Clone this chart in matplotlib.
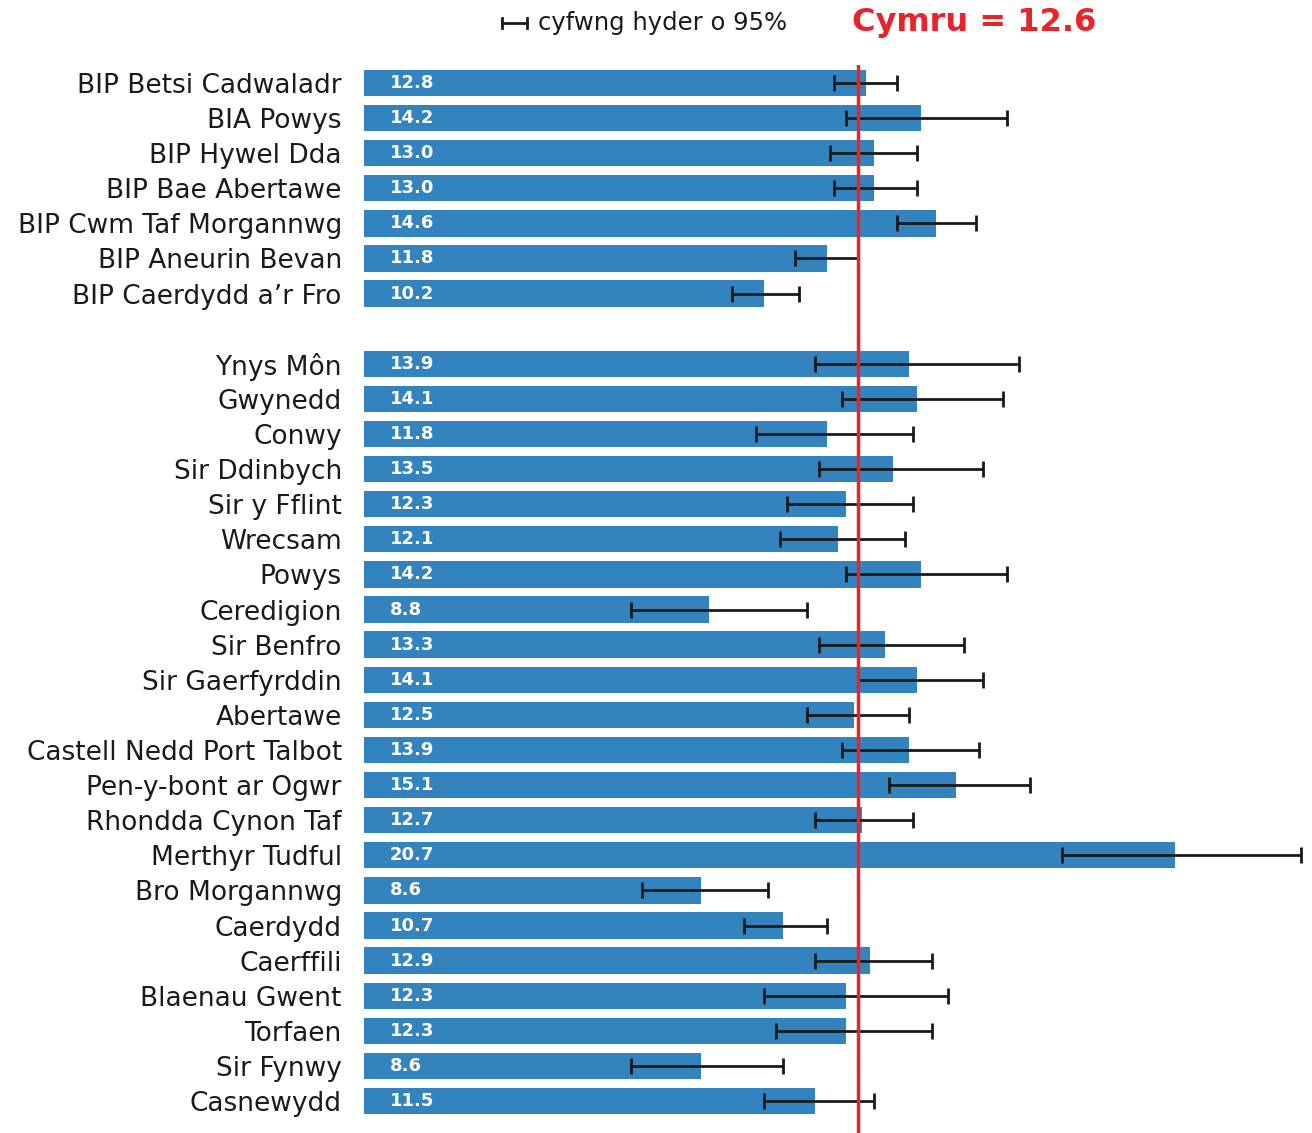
import numpy as np
import matplotlib
matplotlib.use("Agg")
import matplotlib.pyplot as plt

labels = ["BIP Betsi Cadwaladr", "BIA Powys", "BIP Hywel Dda", "BIP Bae Abertawe",
          "BIP Cwm Taf Morgannwg", "BIP Aneurin Bevan", "BIP Caerdydd a\u2019r Fro",
          "Ynys Môn", "Gwynedd", "Conwy", "Sir Ddinbych", "Sir y Fflint", "Wrecsam",
          "Powys", "Ceredigion", "Sir Benfro", "Sir Gaerfyrddin", "Abertawe",
          "Castell Nedd Port Talbot", "Pen-y-bont ar Ogwr", "Rhondda Cynon Taf",
          "Merthyr Tudful", "Bro Morgannwg", "Caerdydd", "Caerffili", "Blaenau Gwent",
          "Torfaen", "Sir Fynwy", "Casnewydd"]
values = [12.8, 14.2, 13.0, 13.0, 14.6, 11.8, 10.2,
          13.9, 14.1, 11.8, 13.5, 12.3, 12.1, 14.2, 8.8, 13.3, 14.1, 12.5,
          13.9, 15.1, 12.7, 20.7, 8.6, 10.7, 12.9, 12.3, 12.3, 8.6, 11.5]
ci_low = [12.0, 12.3, 11.9, 12.0, 13.6, 11.0, 9.4,
          11.5, 12.2, 10.0, 11.6, 10.8, 10.6, 12.3, 6.8, 11.6, 12.6, 11.3,
          12.2, 13.4, 11.5, 17.8, 7.1, 9.7, 11.5, 10.2, 10.5, 6.8, 10.2]
ci_high = [13.6, 16.4, 14.1, 14.1, 15.6, 12.6, 11.1,
           16.7, 16.3, 14.0, 15.8, 14.0, 13.8, 16.4, 11.3, 15.3, 15.8, 13.9,
           15.7, 17.0, 14.0, 23.9, 10.3, 11.8, 14.5, 14.9, 14.5, 10.7, 13.0]
wales = 12.6

# first 7 are health boards, then a blank row, then local authorities
ypos = np.array(list(range(7)) + list(range(8, 30)))
values = np.array(values)
ci_low = np.array(ci_low)
ci_high = np.array(ci_high)

bar_color = "#3383be"
red = "#e8232a"

fig = plt.figure(figsize=(13.12, 11.33), dpi=100)
ax = fig.add_axes([364 / 1312, 0, 948 / 1312, (1133 - 65) / 1133])

ax.barh(ypos, values, height=0.75, color=bar_color, zorder=1)
ax.errorbar(values, ypos, xerr=[values - ci_low, ci_high - values], fmt="none",
            ecolor="#1a1a1a", elinewidth=2, capsize=6, capthick=2, zorder=2, clip_on=False)
ax.axvline(wales, color=red, lw=2.5, zorder=3)

for y, v in zip(ypos, values):
    ax.text(0.65, y, f"{v:.1f}", color="white", fontweight="bold", fontsize=13,
            va="center", ha="left", zorder=4)

ax.set_xlim(0, 948 / 39.2)
ax.set_ylim(29.91, -0.51)
ax.set_yticks(ypos)
ax.set_yticklabels(labels, fontsize=19, color="#1a1a1a")
ax.tick_params(axis="y", length=0, pad=16)
ax.set_xticks([])
for s in ax.spines.values():
    s.set_visible(False)

# legend entry for the confidence interval
fig.text(538 / 1312, 1 - 23 / 1133, "cyfwng hyder o 95%", fontsize=17.5, color="#1a1a1a",
         va="center", ha="left")
fig.lines.append(plt.Line2D([502 / 1312, 527 / 1312], [1 - 23 / 1133] * 2,
                            transform=fig.transFigure, color="#1a1a1a", lw=2))
for xx in (502, 527):
    fig.lines.append(plt.Line2D([xx / 1312] * 2, [1 - 18 / 1133, 1 - 28 / 1133],
                                transform=fig.transFigure, color="#1a1a1a", lw=2))
fig.text(852 / 1312, 1 - 23 / 1133, f"Cymru = {wales}", fontsize=23, fontweight="bold",
         color=red, va="center", ha="left")

fig.savefig("out.png", dpi=100)
